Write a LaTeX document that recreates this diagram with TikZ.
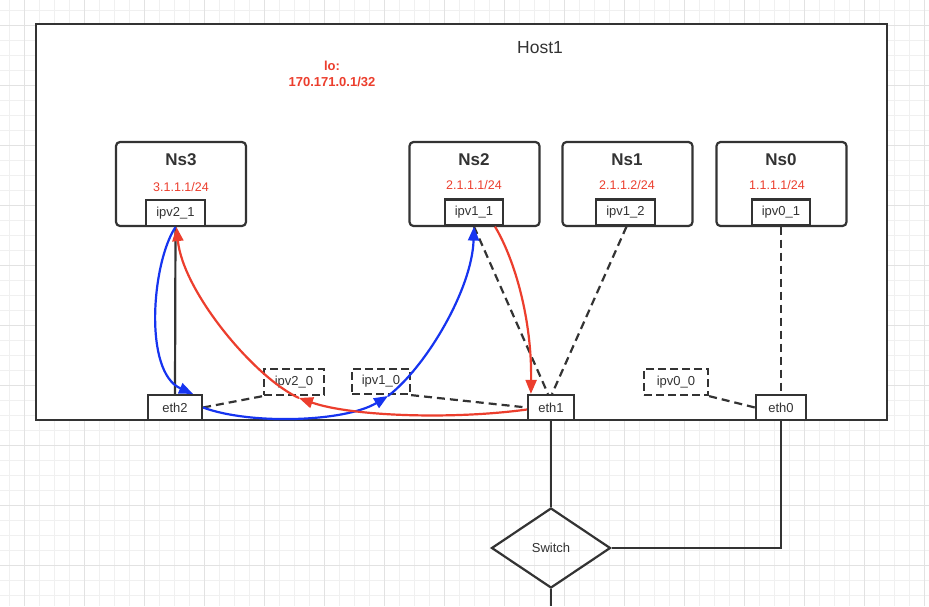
\documentclass[tikz,border=0pt]{standalone}
\usepackage{fontspec}
\setmainfont{Liberation Sans}
\usetikzlibrary{arrows.meta,shapes.geometric,calc}
\definecolor{ink}{RGB}{51,51,51}
\definecolor{rd}{RGB}{236,62,45}
\definecolor{bl}{RGB}{22,52,240}
\definecolor{gmin}{RGB}{240,240,240}
\definecolor{gmaj}{RGB}{226,226,226}
\tikzset{
  hostbox/.style={draw=ink, line width=2.8pt, fill=white, minimum width=851pt, minimum height=396pt, inner sep=0pt},
  nsbox/.style={draw=ink, line width=2.2pt, fill=white, rounded corners=4pt, minimum width=130pt, minimum height=84pt, inner sep=0pt},
  ifbox/.style={draw=ink, line width=2.2pt, fill=white, minimum height=26pt, inner sep=0pt, text=ink, font=\fontsize{13}{15}\selectfont},
  vbox/.style={ifbox, dash pattern=on 8pt off 4pt},
  nstitle/.style={text=ink, font=\fontsize{17}{20}\selectfont\bfseries, inner sep=0pt},
  iptext/.style={text=rd, font=\fontsize{12.5}{15}\selectfont, inner sep=0pt},
  conn/.style={draw=ink, line width=2.2pt},
  dconn/.style={conn, dash pattern=on 8pt off 5pt},
  rcurve/.style={draw=rd, line width=2.2pt},
  bcurve/.style={draw=bl, line width=2.2pt},
  tipr/.style={-{Triangle[length=14pt,width=11pt]}},
}
\begin{document}
\begin{tikzpicture}[x=1pt,y=-1pt]
\useasboundingbox (0,0) rectangle (929,606);
\fill[white] (0,0) rectangle (929,606);
% grid
\foreach \i in {0,...,61} \draw[gmin, line width=1pt] ({9+15*\i},0) -- ({9+15*\i},606);
\foreach \i in {0,...,40} \draw[gmin, line width=1pt] (0,{10+15*\i}) -- (929,{10+15*\i});
\foreach \i in {0,...,15} \draw[gmaj, line width=1pt] ({24+60*\i},0) -- ({24+60*\i},606);
\foreach \i in {0,...,10} \draw[gmaj, line width=1pt] (0,{25+60*\i}) -- (929,{25+60*\i});

% host
\node[hostbox] (host) at (461.5,222) {};
\node[text=ink, font=\fontsize{17.5}{20}\selectfont, inner sep=0pt] (hostt) at (540,48) {Host1};
\node[text=rd, font=\fontsize{13}{15}\selectfont\bfseries, inner sep=0pt, align=center] (lo) at (332,74) {lo:\\[1pt]170.171.0.1/32};

% namespaces
\node[nsbox] (ns3) at (181,184) {};
\node[nsbox] (ns2) at (474.5,184) {};
\node[nsbox] (ns1) at (627.5,184) {};
\node[nsbox] (ns0) at (781.5,184) {};
\node[nstitle] (ns3t) at (181,160) {Ns3};
\node[nstitle] (ns2t) at (474,160) {Ns2};
\node[nstitle] (ns1t) at (627,160) {Ns1};
\node[nstitle] (ns0t) at (781,160) {Ns0};
\node[iptext] (ip3) at (181,187) {3.1.1.1/24};
\node[iptext] (ip2) at (474,185) {2.1.1.1/24};
\node[iptext] (ip1) at (627,185) {2.1.1.2/24};
\node[iptext] (ip0) at (777,185) {1.1.1.1/24};

\node[ifbox, minimum width=59pt] (ipv21) at (175.5,213) {ipv2\_1};
\node[ifbox, minimum width=58pt] (ipv11) at (474,212.5) {ipv1\_1};
\node[ifbox, minimum width=59pt] (ipv12) at (625.5,212.5) {ipv1\_2};
\node[ifbox, minimum width=58pt] (ipv01) at (781,212.5) {ipv0\_1};

% bottom interfaces
\node[ifbox, minimum width=54pt, minimum height=25pt] (eth2) at (175,407.5) {eth2};
\node[ifbox, minimum width=46pt, minimum height=25pt] (eth1) at (551,407.5) {eth1};
\node[ifbox, minimum width=50pt, minimum height=25pt] (eth0) at (781,407.5) {eth0};
\node[vbox, minimum width=60pt] (ipv20) at (294,382) {ipv2\_0};
\node[vbox, minimum width=58pt, minimum height=25pt] (ipv10) at (381,381.5) {ipv1\_0};
\node[vbox, minimum width=64pt] (ipv00) at (676,382) {ipv0\_0};

% switch
\node[draw=ink, line width=2.2pt, shape=diamond, minimum width=119pt, minimum height=80pt, inner sep=0pt, text=ink, font=\fontsize{13}{15}\selectfont] (sw) at (551,548) {Switch};
\coordinate (swout) at (551,606);

% plain connectors
\draw[conn] (ipv21.south) -- (eth2.north);
\draw[dconn] (eth2.east) -- (ipv20.south west);
\draw[dconn] (ipv10.south east) -- (eth1.west);
\draw[dconn] (ipv11.south) -- ($(eth1.north)+(-3,0)$);
\draw[dconn] ($(ipv12.south)+(1,0)$) -- ($(eth1.north)+(1,0)$);
\draw[dconn] (ipv01.south) -- (eth0.north);
\draw[dconn] (ipv00.south east) -- (eth0.west);
\draw[conn] (eth1.south) -- (sw.north);
\draw[conn] (sw.south) -- (swout);
\draw[conn] (sw.east) -| (eth0.south);

% coloured flows
\coordinate (bmid) at (388,396);
\coordinate (rmid) at (299,398);
\draw[bcurve, tipr] (ipv21.south) .. controls (152,262) and (143,372) .. ($(eth2.north)+(18,0)$);
\draw[bcurve, tipr] (eth2.east) .. controls (250,425) and (345,422) .. (bmid);
\draw[bcurve, tipr] (bmid) .. controls (425,368) and (472,290) .. (ipv11.south);
\draw[rcurve, tipr] ($(ipv11.south)+(21,0)$) .. controls (515,260) and (532,320) .. ($(eth1.north west)+(4,0)$);
\draw[rcurve, tipr] ($(eth1.west)+(0,2)$) .. controls (450,420) and (350,416) .. (rmid);
\draw[rcurve, tipr] (rmid) .. controls (255,378) and (183,292) .. ($(ipv21.south)+(1,0)$);
\end{tikzpicture}
\end{document}
